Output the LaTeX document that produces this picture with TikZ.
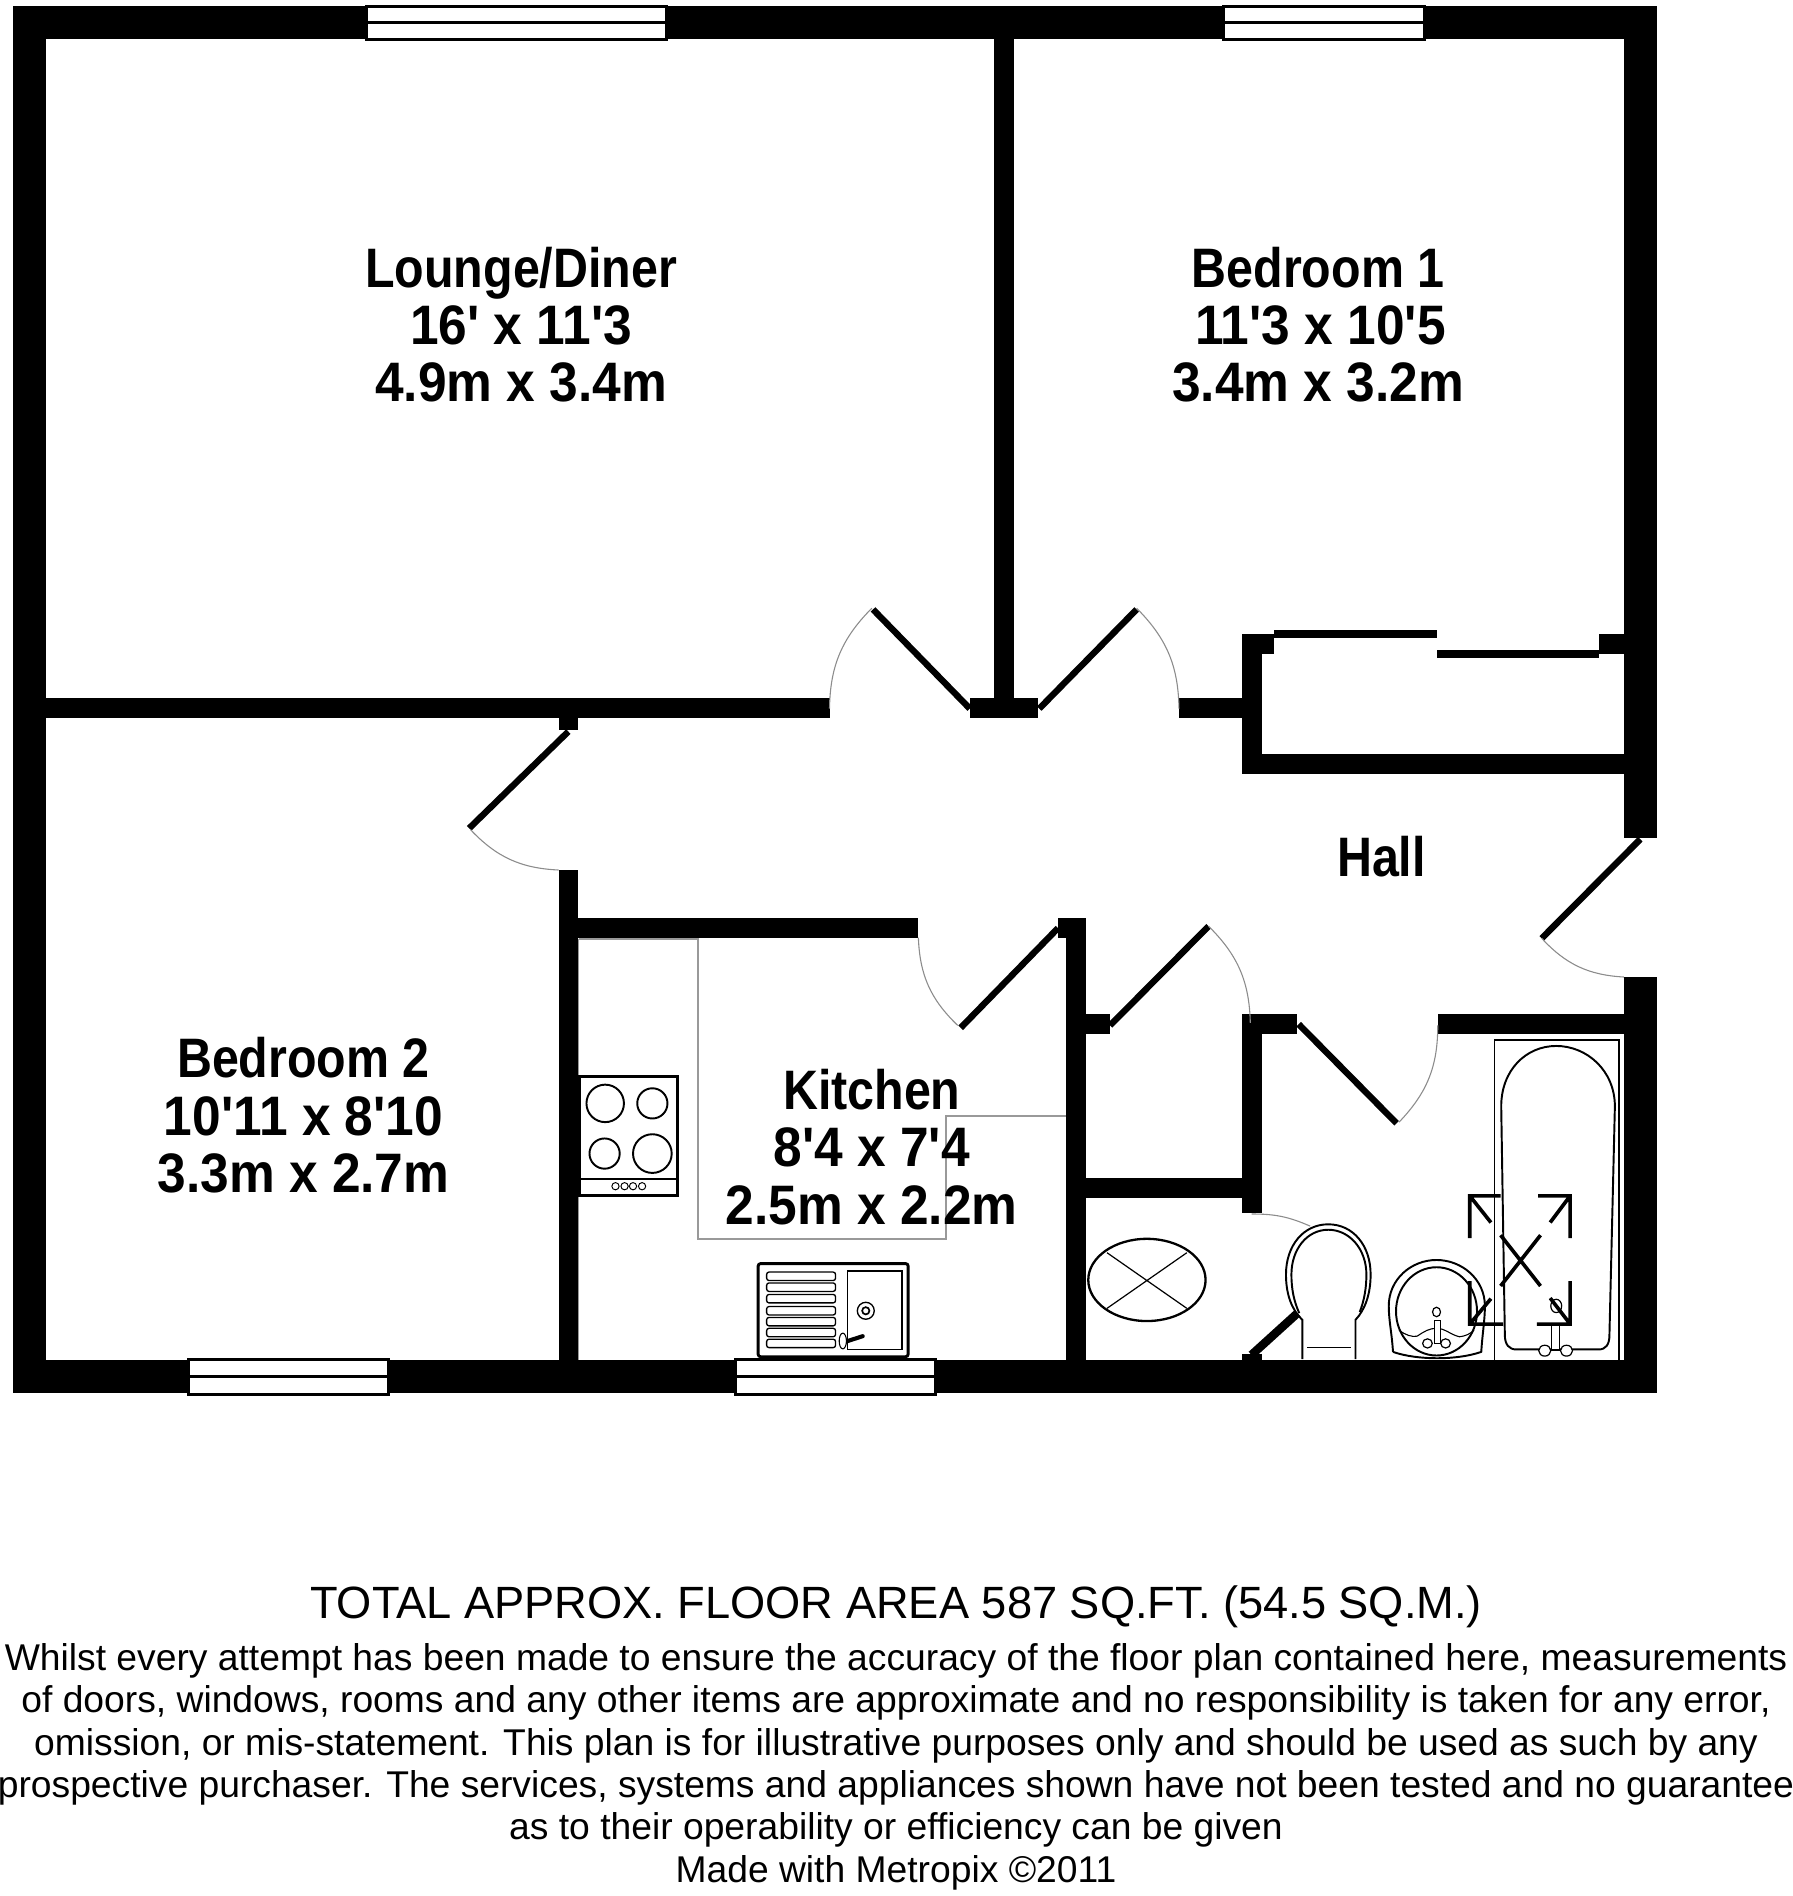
\documentclass[tikz,border=0pt]{standalone}
\usepackage{fontspec}
\newfontfamily\roomfont[FakeStretch=0.87]{Liberation Sans}
\newfontfamily\sizefont[FakeStretch=0.925]{Liberation Sans}
\newfontfamily\notefont{Liberation Sans}

\begin{document}
\begin{tikzpicture}[x=1pt,y=-1pt,
    wall/.style={fill=black},
    window/.style={draw=black,line width=2.5pt,fill=white},
    leaf/.style={line width=5.3pt},
    swing/.style={draw=black!45,line width=0.9pt},
    counter/.style={draw=black!40,line width=1.6pt},
    fitting/.style={draw=black,line width=1.6pt},
    room/.style={align=center,font=\roomfont\bfseries\fontsize{46}{47.5}\selectfont,inner sep=0pt}]
    \useasboundingbox (0,0) rectangle (1482,1568);

    % Outer walls
    \fill[wall] (11,5) rectangle (1370,32);
    \fill[wall] (11,5) rectangle (38,1152);
    \fill[wall] (11,1125) rectangle (1370,1152);
    \fill[wall] (1343,5) rectangle (1370,693);
    \fill[wall] (1343,808) rectangle (1370,1152);

    % Walls between lounge, bedrooms and hall
    \fill[wall] (822,32) rectangle (838.5,580);
    \fill[wall] (38,577.5) rectangle (686,593.5);
    \fill[wall] (802,577.5) rectangle (858.5,593.5);
    \fill[wall] (975,577.5) rectangle (1028,593.5);
    \fill[wall] (462,593.5) rectangle (478,604);

    % Cupboard walls
    \fill[wall] (1027.5,524) rectangle (1043.5,640);
    \fill[wall] (1027.5,524) rectangle (1054,541);
    \fill[wall] (1322.5,524) rectangle (1343,541);
    \fill[wall] (1027.5,623.5) rectangle (1343,640);

    % Cupboard sliding doors
    \fill[wall] (1054,521) rectangle (1188.5,527.5);
    \fill[wall] (1188.5,537.5) rectangle (1322.5,544);

    % Kitchen walls
    \fill[wall] (462,719.5) rectangle (478,1125);
    \fill[wall] (478,759) rectangle (759,775.5);
    \fill[wall] (875,759) rectangle (898,776);
    \fill[wall] (881.5,759) rectangle (898,1125);

    % Bathroom and store walls
    \fill[wall] (898,838.5) rectangle (918,855);
    \fill[wall] (1027.5,838.5) rectangle (1073,855);
    \fill[wall] (1027.5,838.5) rectangle (1043.5,1003);
    \fill[wall] (898,974.5) rectangle (1027.5,990.5);
    \fill[wall] (1189,838.5) rectangle (1343,855);
    \fill[wall] (1027.5,1120) rectangle (1043.5,1125);

    % Windows
    \draw[window] (303,5) rectangle (551,33);
    \draw (303,18.5) -- (551,18.5) [line width=2.5pt];
    \draw[window] (1012,5) rectangle (1178,33);
    \draw (1012,18.5) -- (1178,18.5) [line width=2.5pt];
    \draw[window] (155.5,1124.5) rectangle (321,1153);
    \draw (155.5,1138.5) -- (321,1138.5) [line width=2.5pt];
    \draw[window] (608.5,1124.5) rectangle (774,1153);
    \draw (608.5,1138.5) -- (774,1138.5) [line width=2.5pt];

    % Door leaves
    \draw[leaf] (802,586) -- (722,504);
    \draw[leaf] (859.5,586) -- (940,504);
    \draw[leaf] (470,605) -- (388,685);
    \draw[leaf] (794.5,850) -- (875,767.5);
    \draw[leaf] (918,848) -- (999.5,766);
    \draw[leaf] (1074,847) -- (1155,929);
    \draw[leaf] (1356.5,694) -- (1275,776);
    \draw[leaf,line width=7pt] (1035,1120.5) -- (1073,1086);

    % Door swings
    \draw[swing] (721,503) to[bend right=22] (686,586);
    \draw[swing] (940,503) to[bend left=22] (975,586);
    \draw[swing] (389,686) to[bend right=22] (462,719.5);
    \draw[swing] (792,848) to[bend left=22] (759.5,775.5);
    \draw[swing] (999.5,766) to[bend left=22] (1034,846);
    \draw[swing] (1157,928) to[bend right=22] (1189,848);
    \draw[swing] (1275,776) to[bend right=22] (1343,808);
    \draw[swing] (1035,1004) to[bend left=12] (1083.5,1014);

    % Kitchen worktop
    \draw[counter] (478.5,776.5) -- (577.5,776.5) -- (577.5,1025) -- (782.5,1025) -- (782.5,923) -- (881.5,923);
    \draw[counter,line width=1pt] (478.5,776.5) -- (478.5,1125);

    % Hob
    \draw[draw=black,line width=2.6pt] (479.5,890) rectangle (560,988.5);
    \draw[line width=1.6pt] (479.5,975) -- (560,975);
    \draw[fitting] (500.5,912.5) circle (15.5);
    \draw[fitting] (539.5,912.5) circle (12.5);
    \draw[fitting] (500,954) circle (12.5);
    \draw[fitting] (539.5,954) circle (16);
    \draw[line width=0.8pt] (509,981) circle (3) (516.5,981) circle (3) (523.5,981) circle (3) (531,981) circle (3);

    % Sink
    \draw[line width=2.4pt,rounded corners=2pt] (627,1045) rectangle (751,1122);
    \draw[line width=1.1pt,rounded corners=2pt]
        (634,1052) rectangle (691,1059)
        (634,1061) rectangle (691,1068)
        (634,1070.5) rectangle (691,1077.5)
        (634,1080.5) rectangle (691,1087.5)
        (634,1089.5) rectangle (691,1096.5)
        (634,1098.5) rectangle (691,1105.5)
        (634,1107.5) rectangle (691,1114.5);
    \draw[line width=1.1pt] (701,1051) rectangle (746,1116);
    \draw[fill=white,line width=1.1pt] (716,1084) circle (7);
    \draw[line width=1.4pt] (716,1084) circle (3);
    \draw[line width=3.4pt,line cap=round] (698,1110) -- (713.5,1105);
    \draw[line width=0.9pt,fill=white] (697,1109) ellipse (3 and 6.5);

    % Store cupboard
    \draw[line width=1.9pt] (948.5,1058.5) ellipse (48.5 and 34);
    \draw[line width=1pt] (915.5,1036) -- (981.5,1082) (981.5,1036) -- (915.5,1082);

    % WC
    \draw[fitting] (1077,1124) -- (1077,1091.5) .. controls (1068,1083) and (1063.5,1070) .. (1063.5,1054)
        .. controls (1063.5,1030) and (1078,1012.5) .. (1098.5,1012.5)
        .. controls (1119,1012.5) and (1133.5,1030) .. (1133.5,1054)
        .. controls (1133.5,1070) and (1129,1083) .. (1121,1091.5) -- (1121,1124);
    \draw[fitting] (1074.5,1086) .. controls (1070,1076) and (1068,1066) .. (1068,1054)
        .. controls (1068,1033) and (1081,1017) .. (1098.5,1017)
        .. controls (1116,1017) and (1130,1033) .. (1130,1054)
        .. controls (1130,1066) and (1128,1076) .. (1124.5,1085);
    \draw[line width=1.2pt] (1081,1114.5) -- (1117,1114.5);

    % Basin
    \draw[fitting] (1152,1118) .. controls (1151,1102) and (1148.5,1092) .. (1148.5,1080)
        .. controls (1148.5,1058) and (1167,1042) .. (1188,1042)
        .. controls (1209,1042) and (1228,1058) .. (1228,1080)
        .. controls (1228,1092) and (1226,1102) .. (1225,1118)
        .. controls (1205,1125) and (1172,1125) .. (1152,1118);
    \draw[fitting] (1188,1084.5) ellipse (33.5 and 36.5);
    \draw[line width=0.9pt] (1157,1100) .. controls (1162,1104) and (1168,1106) .. (1172,1105)
        .. controls (1178,1101) and (1182,1098.5) .. (1188,1098.5)
        .. controls (1195,1098.5) and (1200,1104) .. (1207,1105.5)
        .. controls (1212,1105) and (1216,1103) .. (1219,1100);
    \draw[line width=1pt,fill=white] (1188,1085) ellipse (3.3 and 3.9);
    \draw[line width=1pt,fill=white] (1186,1092) rectangle (1191,1111);
    \draw[line width=1pt,fill=white] (1180.5,1111) ellipse (4 and 3.8) (1195.5,1111) ellipse (4 and 3.8);

    % Bath
    \draw[line width=1.1pt] (1236,860) rectangle (1339,1125);
    \draw[fitting] (1241.5,915) .. controls (1241.5,885) and (1262,865) .. (1287,865)
        .. controls (1312,865) and (1335.5,885) .. (1335.5,915)
        -- (1331,1104) .. controls (1331,1112) and (1328,1116) .. (1322,1116)
        -- (1254,1116) .. controls (1248,1116) and (1244.5,1112) .. (1244.5,1104) -- cycle;

    % Bath taps
    \draw[line width=1pt,fill=white] (1283,1096) rectangle (1290,1116);
    \draw[line width=1pt,fill=white] (1277.5,1117) ellipse (5 and 4.5) (1295.5,1117) ellipse (5 and 4.5);
    \draw[line width=1pt] (1282.5,1117) -- (1290.5,1117);

    % Shower marks
    \draw[line width=1pt,fill=white] (1287,1080) ellipse (4.5 and 5.5);
    \draw[line width=3pt] (1241,989) -- (1215.5,989) -- (1215.5,1024) (1215.5,989) -- (1233,1011);
    \draw[line width=3pt] (1272,989) -- (1298.5,989) -- (1298.5,1024) (1298.5,989) -- (1282,1011);
    \draw[line width=3pt] (1215.5,1059.5) -- (1215.5,1095) -- (1243,1095) (1215.5,1095) -- (1233,1074);
    \draw[line width=3pt] (1298.5,1059.5) -- (1298.5,1095) -- (1271,1095) (1298.5,1095) -- (1282,1073.5);
    \draw[line width=3pt] (1241,1021.5) -- (1274,1063.5) (1274,1021.5) -- (1241,1063.5);

    % Room labels
    \node[room] (lounge) at (431,268.5) {Lounge/Diner\\{\sizefont 16' x 11'3}\\{\sizefont 4.9m x 3.4m}};
    \node[room] (bedone) at (1090,268.5) {Bedroom 1\\{\sizefont\hspace{4pt}11'3 x 10'5}\\{\sizefont 3.4m x 3.2m}};
    \node[room] (bedtwo) at (251,922.5) {Bedroom 2\\{\sizefont 10'11 x 8'10}\\{\sizefont 3.3m x 2.7m}};
    \node[room] (kitchen) at (721,948.5) {Kitchen\\{\sizefont 8'4 x 7'4}\\{\sizefont 2.5m x 2.2m}};
    \node[room] (hall) at (1142.5,708.5) {Hall};

    % Footer text
    \node[font=\notefont\fontsize{37.4}{37.4}\selectfont,inner sep=0pt] (total) at (741,1329) {TOTAL APPROX. FLOOR AREA 587 SQ.FT. (54.5 SQ.M.)};
    \node[align=center,font=\notefont\fontsize{30.8}{35}\selectfont,inner sep=0pt] (note) at (741,1461) {Whilst every attempt has been made to ensure the accuracy of the floor plan contained here, measurements\\
        of doors, windows, rooms and any other items are approximate and no responsibility is taken for any error,\\
        omission, or mis-statement. This plan is for illustrative purposes only and should be used as such by any\\
        prospective purchaser. The services, systems and appliances shown have not been tested and no guarantee\\
        as to their operability or efficiency can be given\\
        Made with Metropix ©2011};
\end{tikzpicture}
\end{document}
